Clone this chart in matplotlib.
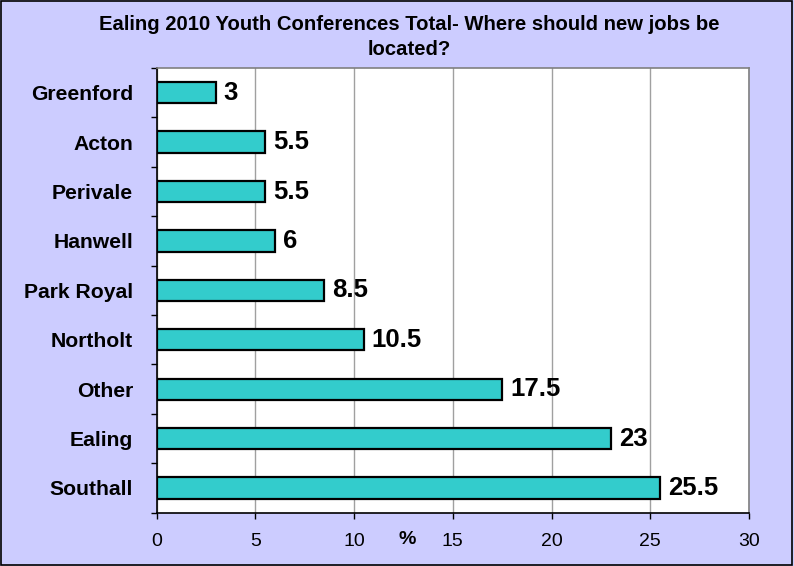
import matplotlib
matplotlib.use("Agg")
import matplotlib.pyplot as plt
from matplotlib.patches import Rectangle
import numpy as np

categories = ["Southall", "Ealing", "Other", "Northolt", "Park Royal", "Hanwell", "Perivale", "Acton", "Greenford"]
values = [25.5, 23, 17.5, 10.5, 8.5, 6, 5.5, 5.5, 3]
value_labels = ["25.5", "23", "17.5", "10.5", "8.5", "6", "5.5", "5.5", "3"]
xticks = [0, 5, 10, 15, 20, 25, 30]
title_lines = ["Ealing 2010 Youth Conferences Total- Where should new jobs be", "located?"]

plt.rcParams['font.family'] = ['Liberation Sans', 'DejaVu Sans']

W, H = 794, 566
fig = plt.figure(figsize=(W / 100, H / 100), dpi=100)
fig.patch.set_facecolor('#CCCCFF')
fig.patches.append(Rectangle((0.001, 0.001), 0.997, 0.997, transform=fig.transFigure,
                             fill=False, edgecolor='black', linewidth=1.2))

ax = fig.add_axes([0.1973, 0.0942, 0.746, 0.7857])
ax.set_facecolor('white')
y = np.arange(len(categories))
ax.barh(y, values, height=0.43, color='#33CCCC', edgecolor='black', linewidth=1.6, zorder=3)
for yi, v, lab in zip(y, values, value_labels):
    ax.text(v + 0.4, yi, lab, va='center', ha='left', fontsize=18.5, fontweight='bold', zorder=4)

ax.set_xlim(0, 30)
ax.set_ylim(-0.5, len(categories) - 0.5)
ax.set_xticks(xticks)
ax.set_xticklabels([str(t) for t in xticks], fontsize=14)
ax.set_yticks(y)
ax.set_yticklabels(categories, fontsize=15.2, fontweight='bold')
ax.tick_params(axis='y', length=0, pad=17)
ax.set_yticks(np.arange(-0.5, len(categories), 1), minor=True)
ax.tick_params(axis='y', which='minor', length=4.5, width=1, direction='out')
ax.tick_params(axis='x', length=4.5, width=1, direction='out', pad=10)
ax.xaxis.grid(True, color='#A0A0A0', linewidth=1, zorder=0)
ax.set_axisbelow(True)
for s in ['left', 'bottom']:
    ax.spines[s].set_color('black')
    ax.spines[s].set_linewidth(1.2)
for s in ['top', 'right']:
    ax.spines[s].set_color('#808080')
    ax.spines[s].set_linewidth(1.2)

ax.annotate('%', xy=(12.7, 0), xycoords=('data', 'axes fraction'), xytext=(0, -19),
            textcoords='offset points', fontsize=14, fontweight='bold', ha='center', va='center')

fig.text(409 / W, 1 - 30 / H, title_lines[0], ha='center', va='baseline', fontsize=14.6, fontweight='bold')
fig.text(409 / W, 1 - 55 / H, title_lines[1], ha='center', va='baseline', fontsize=14.6, fontweight='bold')

fig.savefig('out.png', dpi=100, facecolor=fig.get_facecolor())
